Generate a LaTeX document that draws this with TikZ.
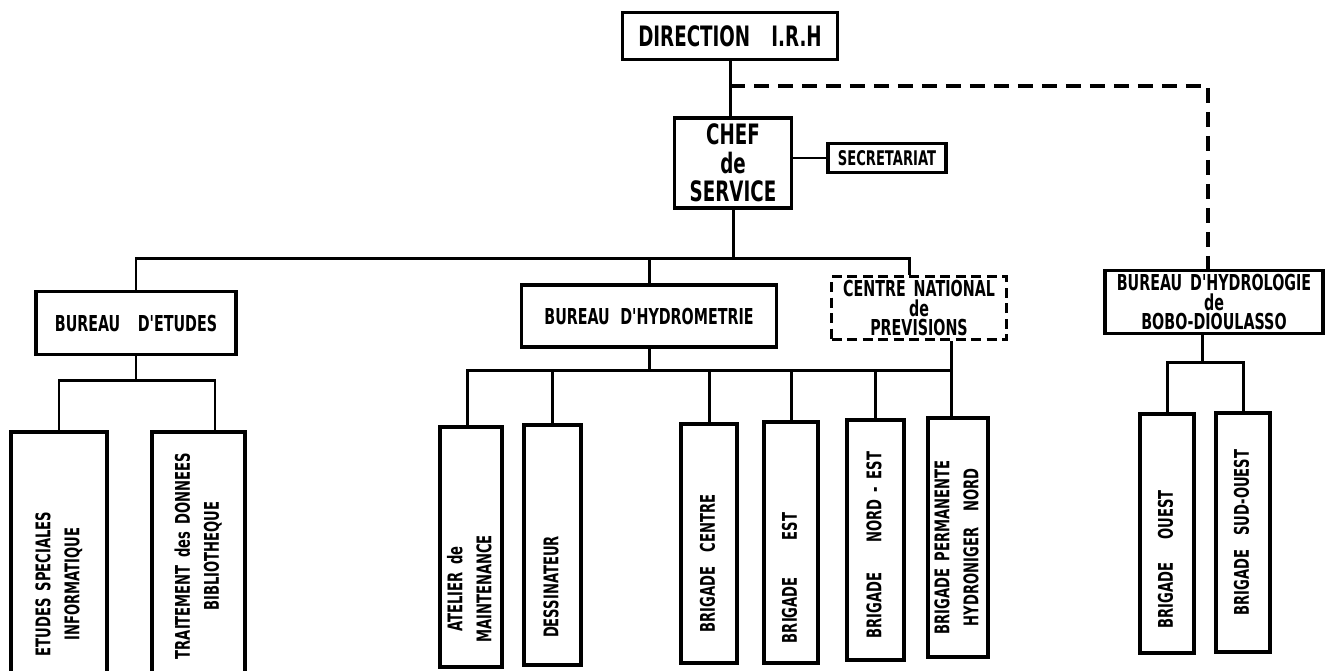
\documentclass[tikz,border=0pt]{standalone}
\usepackage{graphicx}
\usepackage{fontspec}
\newfontfamily\hand{DejaVu Sans}[FakeStretch=0.65,WordSpace=1.6]
\newcommand{\vtxt}[2]{\rotatebox{90}{\begin{tabular}{@{}c@{}}#1\end{tabular}\hspace*{#2}}}

\begin{document}
\begin{tikzpicture}[x=0.02cm,y=-0.02cm,
    box/.style={draw,line width=1.8pt,inner sep=0pt,align=center,font=\hand\bfseries\fontsize{12.5}{11}\selectfont},
    dashbox/.style={box,dash pattern=on 2mm off 1.1mm},
    tallbox/.style={draw,line width=1.8pt,inner sep=0pt,font=\hand\bfseries\fontsize{11.5}{16.5}\selectfont},
    link/.style={line width=1.7pt},
    dashlink/.style={line width=1.8pt,dash pattern=on 3mm off 1.8mm}]
  \useasboundingbox (0,0) rectangle (1331,670);
  % head
  \node[box,minimum width=4.30cm,minimum height=0.94cm,font=\hand\bfseries\fontsize{16}{16}\selectfont] (dir) at (730,36) {DIRECTION\hspace{12pt}I.R.H};
  \node[box,minimum width=2.34cm,minimum height=1.80cm,font=\hand\bfseries\fontsize{16}{16.2}\selectfont] (chef) at (733,163) {CHEF\\de\\SERVICE};
  \node[box,minimum width=2.36cm,minimum height=0.58cm,font=\hand\bfseries\fontsize{11.5}{12}\selectfont] (secr) at (887,158) {SECRETARIAT};
  % bureaus
  \node[box,minimum width=4.00cm,minimum height=1.26cm] (betudes) at (136,323) {BUREAU\hspace{10pt}D'ETUDES};
  \node[box,minimum width=5.10cm,minimum height=1.24cm] (bhydrom) at (649,316) {BUREAU\hspace{6pt}D'HYDROMETRIE};
  \node[dashbox,minimum width=3.50cm,minimum height=1.26cm] (cnp) at (919,308) {CENTRE NATIONAL\\de\\PREVISIONS};
  \node[box,minimum width=4.36cm,minimum height=1.26cm] (bbobo) at (1214,302) {BUREAU D'HYDROLOGIE\\de\\BOBO-DIOULASSO};
  % tall boxes
  \node[tallbox,minimum width=1.92cm,minimum height=4.96cm] (etudes) at (59,556) {\vtxt{ETUDES SPECIALES\\INFORMATIQUE}{11.2mm}};
  \node[tallbox,minimum width=1.86cm,minimum height=4.96cm] (traitement) at (198.5,556) {\vtxt{TRAITEMENT des DONNEES\\BIBLIOTHEQUE}{0mm}};
  \node[tallbox,minimum width=1.24cm,minimum height=4.80cm] (atelier) at (471,547) {\vtxt{ATELIER de\\MAINTENANCE}{16.8mm}};
  \node[tallbox,minimum width=1.14cm,minimum height=4.80cm] (dessin) at (552.5,545) {\vtxt{DESSINATEUR}{16.8mm}};
  \node[tallbox,minimum width=1.12cm,minimum height=4.78cm] (bcentre) at (709,543.5) {\vtxt{BRIGADE\hspace{8pt}CENTRE}{8mm}};
  \node[tallbox,minimum width=1.08cm,minimum height=4.82cm] (best) at (791,542.5) {\vtxt{BRIGADE\hspace{21pt}EST}{14.2mm}};
  \node[tallbox,minimum width=1.14cm,minimum height=4.80cm] (bnordest) at (875.5,540) {\vtxt{BRIGADE\hspace{17pt}NORD - EST}{2mm}};
  \node[tallbox,minimum width=1.20cm,minimum height=4.78cm] (bperm) at (958,537.5) {\vtxt{BRIGADE PERMANENTE\\HYDRONIGER\hspace{9pt}NORD}{4mm}};
  \node[tallbox,minimum width=1.08cm,minimum height=4.78cm] (bouest) at (1167,533.5) {\vtxt{BRIGADE\hspace{13pt}OUEST}{10.4mm}};
  \node[tallbox,minimum width=1.08cm,minimum height=4.78cm] (bsudouest) at (1243,532.5) {\vtxt{BRIGADE\hspace{8pt}SUD-OUEST}{0mm}};
  % links
  \draw[link] (dir.south) -- (dir.south |- chef.north);
  \draw[link] (secr.west -| chef.east) -- (secr.west);
  \draw[dashlink] (dir.south |- 0,86) -| ([xshift=-0.12cm]bbobo.north);
  \coordinate (top) at (chef.south |- 0,258);
  \draw[link] (chef.south) -- (top);
  \draw[link] (betudes.north) |- ([xshift=-0.19cm]cnp.north |- top) -- ([xshift=-0.19cm]cnp.north);
  \draw[link] (bhydrom.north) -- (bhydrom.north |- top);
  % etudes
  \coordinate (ebus) at (betudes.south |- 0,380);
  \draw[link] (betudes.south) -- (ebus);
  \draw[link] (etudes.north) |- ([xshift=0.33cm]traitement.north |- ebus) -- ([xshift=0.33cm]traitement.north);
  % hydrometrie
  \coordinate (hbus) at (bhydrom.south |- 0,370);
  \draw[link] (bhydrom.south) -- (hbus);
  \draw[link] ([xshift=-0.08cm]atelier.north) |- ([xshift=0.65cm]cnp.south |- hbus);
  \foreach \n in {dessin,bcentre,best,bnordest}
    \draw[link] (\n.north) -- (\n.north |- hbus);
  \draw[link] ([xshift=0.65cm]cnp.south) -- ([xshift=0.65cm]cnp.south |- bperm.north);
  % bobo
  \coordinate (bbus) at ([xshift=-0.24cm]bbobo.south |- 0,362);
  \draw[link] ([xshift=-0.24cm]bbobo.south) -- (bbus);
  \draw[link] (bouest.north) |- (bsudouest.north |- bbus) -- (bsudouest.north);
\end{tikzpicture}
\end{document}
